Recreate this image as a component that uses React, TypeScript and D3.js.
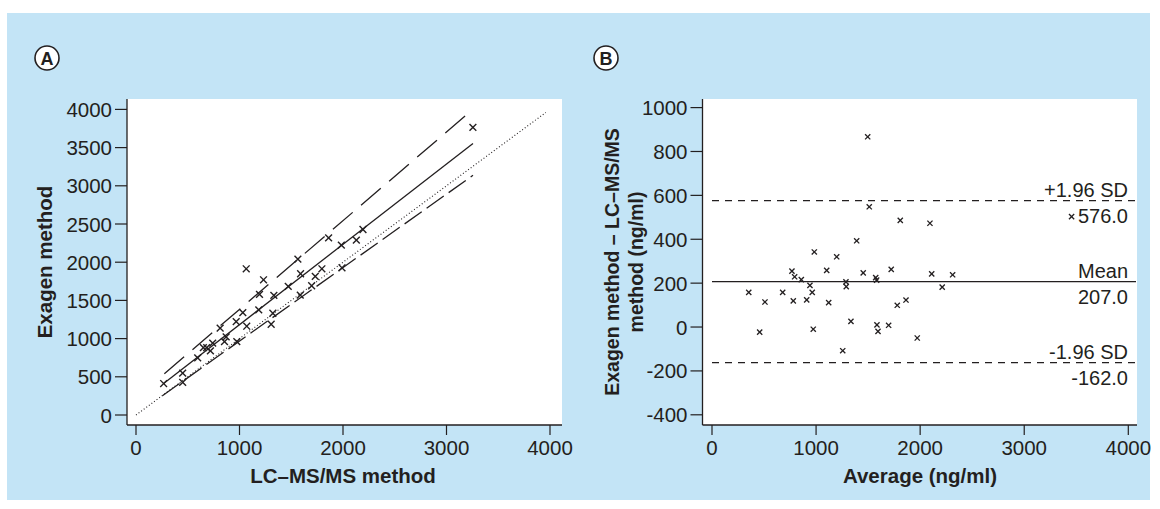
import React from "react";
import * as d3 from "d3";

// Panel A: Exagen vs LC-MS/MS (ng/ml)
const lcmsA = [267, 451, 451, 596, 651, 683, 719, 741, 813, 855, 871, 974, 968, 1065, 1070, 1032, 1186, 1193, 1232, 1332, 1322, 1306, 1471, 1564, 1590, 1587, 1697, 1732, 1796, 1990, 1861, 1984, 2129, 2193, 3255];
const exagenA = [412, 548, 426, 748, 882, 882, 839, 940, 1136, 961, 1022, 961, 1222, 1914, 1162, 1339, 1375, 1580, 1770, 1567, 1332, 1188, 1684, 2040, 1849, 1570, 1692, 1815, 1914, 1927, 2319, 2223, 2289, 2428, 3764];

// Regression line and its bands (start/end values)
const fitLine: [number, number][] = [[264, 409], [3256, 3555]];
const upperBand: [number, number][] = [[274, 540], [3197, 3933]];
const lowerBand: [number, number][] = [[255, 252], [3256, 3137]];
const identityLine: [number, number][] = [[0, 0], [3960, 3960]];

// Panel B: Bland-Altman
const avgB = [1496, 1511, 1809, 1390, 983, 1198, 768, 794, 858, 1102, 1453, 1722, 1573, 1582, 1287, 1290, 941, 963, 353, 679, 509, 781, 910, 1121, 1780, 1864, 1335, 973, 458, 1585, 1595, 1697, 1256, 2094, 2111, 2312, 2212, 1972, 3455];
const diffB = [867, 548, 486, 393, 342, 320, 255, 229, 216, 258, 247, 263, 225, 214, 206, 184, 190, 158, 158, 158, 114, 119, 124, 111, 99, 123, 26, -10, -23, 10, -20, 8, -108, 473, 242, 238, 182, -50, 503];

const meanDiff = 207.0;
const upperLoA = 576.0;
const lowerLoA = -162.0;

const ticksA = [0, 500, 1000, 1500, 2000, 2500, 3000, 3500, 4000];
const ticksAX = [0, 1000, 2000, 3000, 4000];
const ticksBY = [-400, -200, 0, 200, 400, 600, 800, 1000];
const ticksBX = [0, 1000, 2000, 3000, 4000];

const FONT = "'Liberation Sans', Arial, Helvetica, sans-serif";
const BG = "#c3e4f6";
const INK = "#231f20";
const TICK_FS = 20.5;
const TITLE_FS = 20.5;

function Cross({ x, y, s, w }: { x: number; y: number; s: number; w: number }) {
  return (
    <g stroke={INK} strokeWidth={w}>
      <line x1={x - s} y1={y - s} x2={x + s} y2={y + s} />
      <line x1={x - s} y1={y + s} x2={x + s} y2={y - s} />
    </g>
  );
}

function Badge({ x, y, t }: { x: number; y: number; t: string }) {
  return (
    <g>
      <circle cx={x} cy={y} r={12} fill="#fff" stroke={INK} strokeWidth={1.6} />
      <text x={x} y={y + 6.5} textAnchor="middle" fontSize={18} fontWeight="bold" fontFamily={FONT} fill={INK}>{t}</text>
    </g>
  );
}

export default function App() {
  // Panel A geometry
  const aL = 127, aR = 562, aT = 99, aB = 425;
  const xA = d3.scaleLinear().domain([0, 4000]).range([136, 550]);
  const yA = d3.scaleLinear().domain([0, 4000]).range([415, 109.4]);
  // Panel B geometry
  const bL = 702.5, bR = 1137, bT = 99, bB = 425;
  const xB = d3.scaleLinear().domain([0, 4000]).range([712, 1128.3]);
  const yB = d3.scaleLinear().domain([-400, 1000]).range([414.8, 107.6]);

  const lineA = d3.line<[number, number]>().x(d => xA(d[0])).y(d => yA(d[1]));

  return (
    <svg width={1160} height={509} style={{ position: "absolute", left: 0, top: 0, background: "#fff" }} fontFamily={FONT}>
      <rect x={7} y={13} width={1143} height={487} fill={BG} />

      {/* Panel A */}
      <Badge x={47} y={58} t="A" />
      <rect x={aL} y={aT} width={aR - aL} height={aB - aT} fill="#fff" />
      <line x1={aL} y1={aT} x2={aL} y2={aB} stroke={INK} strokeWidth={1.3} />
      <line x1={aL} y1={aB} x2={aR} y2={aB} stroke={INK} strokeWidth={1.3} />
      {ticksA.map(t => (
        <g key={"ay" + t}>
          <line x1={aL - 12} x2={aL} y1={yA(t)} y2={yA(t)} stroke={INK} strokeWidth={1.2} />
          <text x={aL - 15} y={yA(t) + 7.5} textAnchor="end" fontSize={TICK_FS} fill={INK}>{t}</text>
        </g>
      ))}
      {ticksAX.map(t => (
        <g key={"ax" + t}>
          <line x1={xA(t)} x2={xA(t)} y1={aB} y2={aB + 10} stroke={INK} strokeWidth={1.2} />
          <text x={xA(t)} y={455} textAnchor="middle" fontSize={TICK_FS} fill={INK}>{t}</text>
        </g>
      ))}
      <path d={lineA(identityLine) || ""} fill="none" stroke={INK} strokeWidth={1.1} strokeDasharray="1,2.2" />
      <path d={lineA(fitLine) || ""} fill="none" stroke={INK} strokeWidth={1.3} />
      <path d={lineA(upperBand) || ""} fill="none" stroke={INK} strokeWidth={1.3} strokeDasharray="26,11" />
      <path d={lineA(lowerBand) || ""} fill="none" stroke={INK} strokeWidth={1.3} strokeDasharray="21,6" />
      {lcmsA.map((v, i) => (
        <Cross key={"pa" + i} x={xA(v)} y={yA(exagenA[i])} s={3.4} w={1.4} />
      ))}
      <text x={343} y={483} textAnchor="middle" fontSize={TITLE_FS} fontWeight="bold" fill={INK}>LC–MS/MS method</text>
      <text transform={`translate(51.5, ${(aT + aB) / 2}) rotate(-90)`} textAnchor="middle" fontSize={TITLE_FS} fontWeight="bold" fill={INK}>Exagen method</text>

      {/* Panel B */}
      <Badge x={606} y={58} t="B" />
      <rect x={bL} y={bT} width={bR - bL} height={bB - bT} fill="#fff" />
      <line x1={bL} y1={bT} x2={bL} y2={bB} stroke={INK} strokeWidth={1.3} />
      <line x1={bL} y1={bB} x2={bR} y2={bB} stroke={INK} strokeWidth={1.3} />
      {ticksBY.map(t => (
        <g key={"by" + t}>
          <line x1={bL - 12} x2={bL} y1={yB(t)} y2={yB(t)} stroke={INK} strokeWidth={1.2} />
          <text x={bL - 15} y={yB(t) + 7.5} textAnchor="end" fontSize={TICK_FS} fill={INK}>{t}</text>
        </g>
      ))}
      {ticksBX.map(t => (
        <g key={"bx" + t}>
          <line x1={xB(t)} x2={xB(t)} y1={bB} y2={bB + 10} stroke={INK} strokeWidth={1.2} />
          <text x={xB(t)} y={455} textAnchor="middle" fontSize={TICK_FS} fill={INK}>{t}</text>
        </g>
      ))}
      <line x1={xB(0)} x2={bR - 1} y1={yB(upperLoA)} y2={yB(upperLoA)} stroke={INK} strokeWidth={1.3} strokeDasharray="7,6" />
      <line x1={xB(0)} x2={bR - 1} y1={yB(lowerLoA)} y2={yB(lowerLoA)} stroke={INK} strokeWidth={1.3} strokeDasharray="7,6" />
      <line x1={xB(0)} x2={bR - 1} y1={yB(meanDiff)} y2={yB(meanDiff)} stroke={INK} strokeWidth={1.3} />
      {avgB.map((v, i) => (
        <Cross key={"pb" + i} x={xB(v)} y={yB(diffB[i])} s={2.6} w={1.3} />
      ))}
      <g fontSize={20} fill={INK} textAnchor="end">
        <text x={1128} y={yB(upperLoA) - 3.5}>+1.96 SD</text>
        <text x={1128} y={yB(upperLoA) + 22.5}>{upperLoA.toFixed(1)}</text>
        <text x={1128} y={yB(meanDiff) - 3.5}>Mean</text>
        <text x={1128} y={yB(meanDiff) + 22.5}>{meanDiff.toFixed(1)}</text>
        <text x={1128} y={yB(lowerLoA) - 3.5}>-1.96 SD</text>
        <text x={1128} y={yB(lowerLoA) + 22.5}>{lowerLoA.toFixed(1)}</text>
      </g>
      <text x={920} y={483} textAnchor="middle" fontSize={TITLE_FS} fontWeight="bold" fill={INK}>Average (ng/ml)</text>
      <g transform={`translate(619, ${(bT + bB) / 2}) rotate(-90)`}>
        <text x={0} y={0} textAnchor="middle" fontSize={19.5} fontWeight="bold" fill={INK}>Exagen method – LC–MS/MS</text>
        <text x={0} y={24} textAnchor="middle" fontSize={19.5} fontWeight="bold" fill={INK}>method (ng/ml)</text>
      </g>
    </svg>
  );
}
